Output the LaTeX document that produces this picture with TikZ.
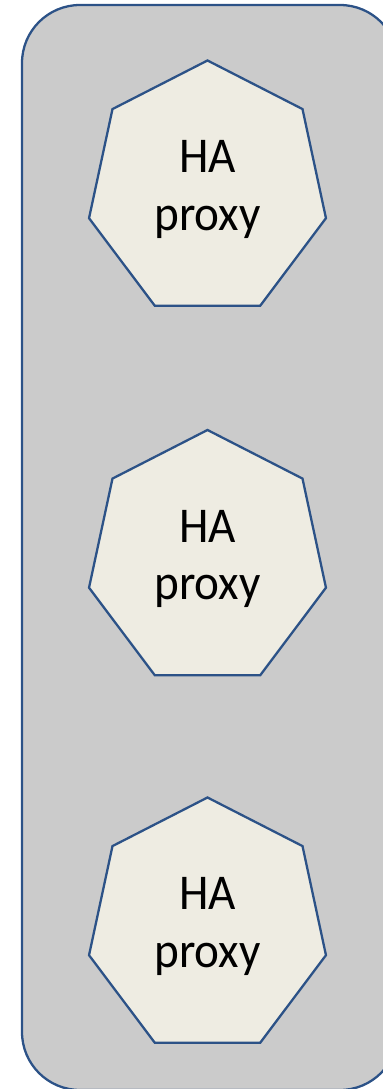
\documentclass[tikz,border=0pt]{standalone}
\usepackage{fontspec}
\setmainfont{Carlito}
\definecolor{pxgray}{RGB}{203,203,203}
\definecolor{pxblue}{RGB}{44,82,135}
\definecolor{pxbeige}{RGB}{238,236,226}
\usetikzlibrary{shapes.geometric}

\begin{document}
\begin{tikzpicture}[
        hostbox/.style={rectangle, rounded corners=1.16cm, draw=pxblue, fill=pxgray,
                        line width=1.3pt, minimum width=7.52cm, minimum height=21.70cm},
        proxybox/.style={regular polygon, regular polygon sides=7, draw=pxblue, fill=pxbeige,
                         line width=1.3pt, minimum size=5.16cm, inner sep=0pt,
                         xscale=0.942, transform shape, align=center,
                         font=\fontsize{28.5}{32.5}\selectfont}
      ]
        \useasboundingbox (0,0) rectangle (7.66,21.78);
        \node[hostbox] (host) at (4.20,10.83) {};
        \node[proxybox] (proxy1) at (4.15,17.99) {HA\\proxy};
        \node[proxybox] (proxy2) at (4.15,10.60) {HA\\proxy};
        \node[proxybox] (proxy3) at (4.15,3.25) {HA\\proxy};
      \end{tikzpicture}
\end{document}
